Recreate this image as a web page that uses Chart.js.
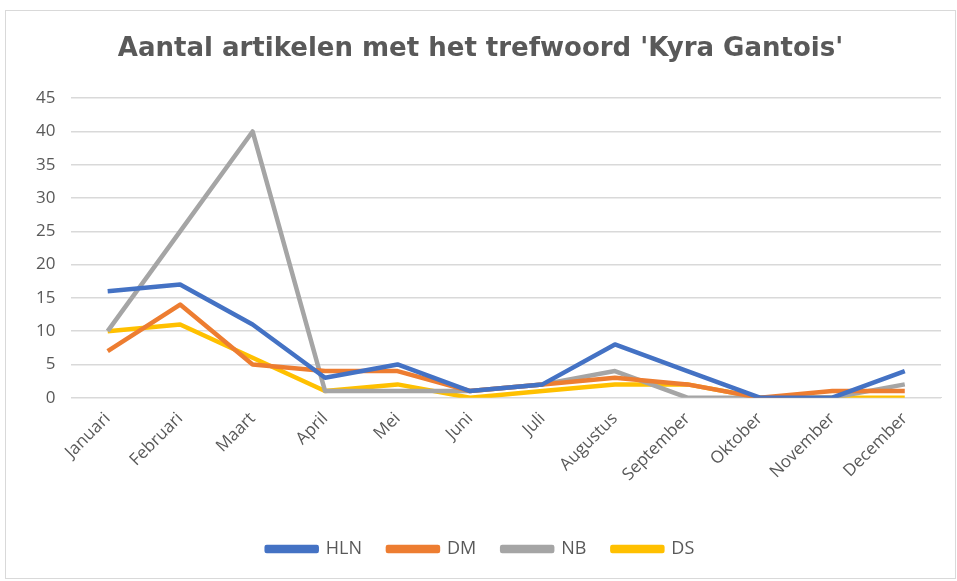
<!DOCTYPE html>
<html>
<head>
<meta charset="utf-8">
<script src="https://cdn.jsdelivr.net/npm/chart.js@4"></script>
<style>
  body { margin: 0; background: #fff; }
  #box { position: absolute; left: 5px; top: 10px; width: 949px; height: 567px; border: 1px solid #d9d9d9; }
</style>
</head>
<body>
<div id="box"><canvas id="artikel-chart" width="949" height="567"></canvas></div>
<script>
const months = ['Januari', 'Februari', 'Maart', 'April', 'Mei', 'Juni', 'Juli', 'Augustus', 'September', 'Oktober', 'November', 'December'];
const hln = [16, 17, 11, 3, 5, 1, 2, 8, 4, 0, 0, 4];
const dm = [7, 14, 5, 4, 4, 1, 2, 3, 2, 0, 1, 1];
const nb = [10, 25, 40, 1, 1, 1, 2, 4, 0, 0, 0, 2];
const ds = [10, 11, 6, 1, 2, 0, 1, 2, 2, 0, 0, 0];

const font = "'Open Sans', 'Liberation Sans', sans-serif";

function line(label, data, color) {
    return {
        label: label,
        data: data,
        borderColor: color,
        backgroundColor: color,
        borderWidth: 4.5,
        pointRadius: 0,
        tension: 0,
        borderJoinStyle: 'round'
    };
}

const ctx = document.getElementById('artikel-chart').getContext('2d');
new Chart(ctx, {
    type: 'line',
    data: {
        labels: months,
        datasets: [
            line('HLN', hln, '#4472C4'),
            line('DM', dm, '#ED7D31'),
            line('NB', nb, '#A5A5A5'),
            line('DS', ds, '#FFC000')
        ]
    },
    options: {
        responsive: false,
        animation: false,
        layout: { padding: { left: 14, right: 14, top: 4, bottom: 10 } },
        plugins: {
            title: {
                display: true,
                text: "Aantal artikelen met het trefwoord 'Kyra Gantois'",
                color: '#595959',
                font: { family: "'DejaVu Sans', Verdana, sans-serif", size: 26, weight: 'bold' },
                padding: { top: 19, bottom: 33 }
            },
            legend: {
                position: 'bottom',
                labels: {
                    color: '#595959',
                    font: { family: font, size: 18 },
                    boxWidth: 50,
                    boxHeight: 4,
                    padding: 26
                }
            },
            tooltip: { enabled: false }
        },
        scales: {
            x: {
                offset: true,
                grid: { display: false },
                border: { color: '#d9d9d9' },
                ticks: {
                    color: '#595959',
                    font: { family: font, size: 17 },
                    maxRotation: 45,
                    minRotation: 45
                },
                afterFit: scale => { scale.height += 26; }
            },
            y: {
                min: 0,
                max: 45,
                ticks: {
                    stepSize: 5,
                    color: '#595959',
                    font: { family: font, size: 17 },
                    padding: 16
                },
                grid: { color: '#d9d9d9', lineWidth: 1.5, drawTicks: false },
                border: { display: false }
            }
        }
    }
});
</script>
</body>
</html>
